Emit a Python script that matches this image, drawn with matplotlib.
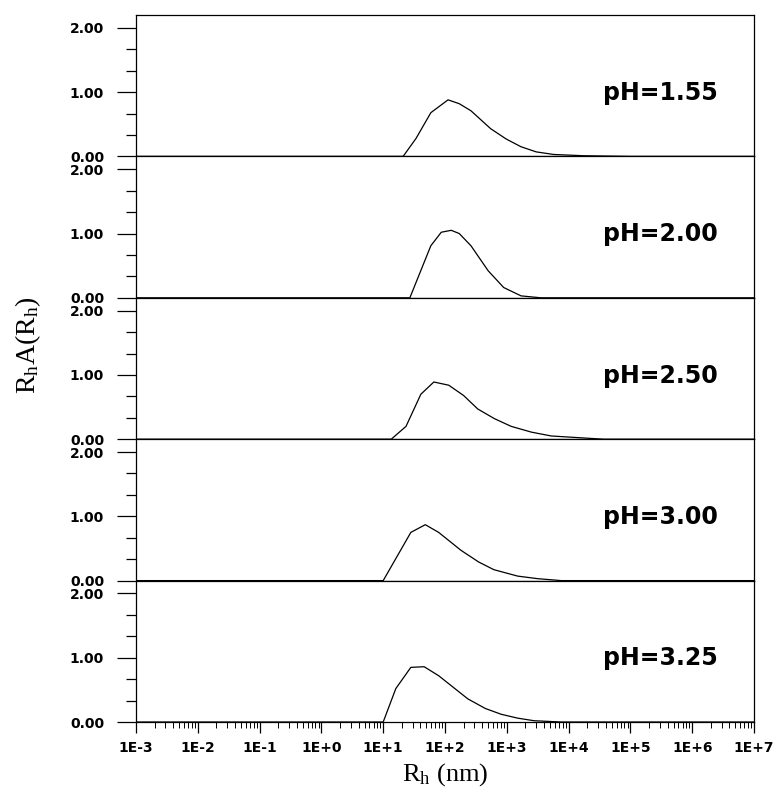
import numpy as np
import matplotlib.pyplot as plt
from matplotlib.ticker import FixedLocator, LogLocator, NullFormatter

plt.rcParams['mathtext.fontset'] = 'custom'
plt.rcParams['mathtext.rm'] = 'Liberation Serif'

# Данные: радиус (нм) и R_h A(R_h) для каждого pH
labels = ['pH=1.55', 'pH=2.00', 'pH=2.50', 'pH=3.00', 'pH=3.25']

r_155 = [1e-3, 21, 34, 59, 112, 170, 263, 380, 550, 980, 1700, 3000, 5750, 17800, 1e5, 1e7]
a_155 = [0, 0, 0.28, 0.68, 0.88, 0.82, 0.71, 0.57, 0.43, 0.27, 0.15, 0.07, 0.03, 0.01, 0, 0]

r_200 = [1e-3, 27, 59, 87, 126, 170, 263, 500, 890, 1700, 3550, 1e7]
a_200 = [0, 0, 0.81, 1.02, 1.05, 1.00, 0.81, 0.42, 0.16, 0.03, 0, 0]

r_250 = [1e-3, 13.5, 23.4, 40.7, 66, 115, 200, 339, 630, 1175, 2500, 5250, 37000, 1e7]
a_250 = [0, 0, 0.20, 0.70, 0.89, 0.84, 0.68, 0.47, 0.32, 0.20, 0.11, 0.05, 0, 0]

r_300 = [1e-3, 10, 28, 48, 79, 182, 350, 617, 1500, 3160, 7600, 1e7]
a_300 = [0, 0, 0.75, 0.87, 0.75, 0.47, 0.29, 0.17, 0.07, 0.03, 0, 0]

r_325 = [1e-3, 10, 16, 28, 46, 79, 234, 450, 813, 1500, 2750, 7600, 1e7]
a_325 = [0, 0, 0.52, 0.85, 0.86, 0.72, 0.36, 0.21, 0.12, 0.06, 0.02, 0, 0]

series = [(r_155, a_155), (r_200, a_200), (r_250, a_250), (r_300, a_300), (r_325, a_325)]
xticks = [1e-3, 1e-2, 1e-1, 1e0, 1e1, 1e2, 1e3, 1e4, 1e5, 1e6, 1e7]
xtick_labels = ['1E-3', '1E-2', '1E-1', '1E+0', '1E+1', '1E+2', '1E+3', '1E+4', '1E+5', '1E+6', '1E+7']

fig = plt.figure(figsize=(7.78, 7.91), dpi=100)
left, right = 136 / 778, 754 / 778
top, bottom = 1 - 15 / 791, 1 - 722 / 791
h = (top - bottom) / 5

for i, ((r, a), lab) in enumerate(zip(series, labels)):
    ax = fig.add_axes([left, top - (i + 1) * h, right - left, h])
    ax.plot(r, a, color='black', lw=0.9)
    ax.set_xscale('log')
    ax.set_xlim(1e-3, 1e7)
    ax.set_ylim(0, 2.2)
    for s in ax.spines.values():
        s.set_linewidth(0.9)

    ax.yaxis.set_major_locator(FixedLocator([0, 1, 2]))
    ax.yaxis.set_minor_locator(FixedLocator([1 / 3, 2 / 3, 4 / 3, 5 / 3]))
    ax.set_yticklabels(['0.00', '1.00', '2.00'], fontfamily='DejaVu Sans',
                       fontweight='bold', fontsize=10)
    ax.tick_params(axis='y', which='major', direction='out', length=14, width=0.9, pad=9)
    ax.tick_params(axis='y', which='minor', direction='out', length=7, width=0.9)

    ax.text(0.942, 0.40, lab, transform=ax.transAxes, ha='right', va='baseline',
            fontfamily='DejaVu Sans', fontweight='bold', fontsize=17)

    if i < 4:
        ax.tick_params(axis='x', which='both', bottom=False, labelbottom=False)
    else:
        ax.xaxis.set_major_locator(FixedLocator(xticks))
        ax.xaxis.set_minor_locator(LogLocator(base=10, subs=np.arange(2, 10), numticks=20))
        ax.xaxis.set_minor_formatter(NullFormatter())
        ax.set_xticklabels(xtick_labels, fontfamily='DejaVu Sans', fontweight='bold', fontsize=10)
        ax.tick_params(axis='x', which='major', direction='out', length=8, width=0.9, pad=6)
        ax.tick_params(axis='x', which='minor', direction='out', length=4.5, width=0.7)

fig.text(0.5 * (left + right), 1 - 775 / 791, r'$\mathrm{R_h}$ (nm)', ha='center', va='center',
         fontfamily='Liberation Serif', fontsize=19)
fig.text(0.036, 1 - 345 / 791, r'$\mathrm{R_h}$A($\mathrm{R_h}$)', ha='center', va='center',
         rotation=90, fontfamily='Liberation Serif', fontsize=20)

fig.savefig('out.png', dpi=100)
